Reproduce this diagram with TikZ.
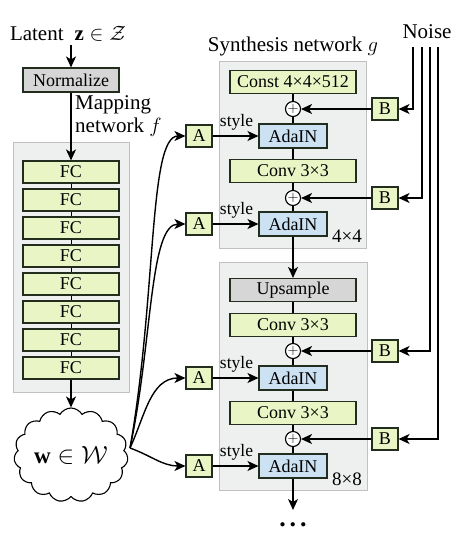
\documentclass[tikz,border=0pt]{standalone}
\usepackage{amsmath,amssymb}
\usepackage{fontspec}
\setmainfont{Liberation Serif}
\usetikzlibrary{positioning,arrows.meta,shapes.symbols}
\definecolor{fcgreen}{RGB}{234,245,198}
\definecolor{adablue}{RGB}{204,225,242}
\definecolor{normgray}{RGB}{214,214,214}
\definecolor{panelgray}{RGB}{238,239,239}
\definecolor{panelline}{RGB}{192,192,192}
\definecolor{boxline}{RGB}{35,45,30}
\tikzset{
  blk/.style={draw=boxline, line width=1.1pt, inner sep=0pt, font=\fontsize{18}{20}\selectfont},
  fc/.style={blk, fill=fcgreen, minimum width=96pt, minimum height=22pt},
  wide/.style={blk, fill=fcgreen, minimum width=126pt, minimum height=23pt},
  grayb/.style={blk, fill=normgray, minimum height=24pt},
  ada/.style={blk, fill=adablue, minimum width=68pt, minimum height=24pt},
  sq/.style={blk, fill=fcgreen, minimum width=26pt, minimum height=22pt},
  addn/.style={circle, draw=black, line width=1.1pt, fill=white, minimum size=15pt,
               inner sep=0pt, font=\fontsize{15}{15}\selectfont},
  panel/.style={draw=panelline, line width=1pt, fill=panelgray},
  lnk/.style={line width=1.4pt, -{Stealth[length=11pt,width=10pt,inset=3pt]}},
  ln/.style={line width=1.4pt},
  ttl/.style={font=\fontsize{21}{24}\selectfont},
  stylab/.style={font=\fontsize{17.5}{19}\selectfont, inner sep=1pt},
  reslab/.style={font=\fontsize{19}{21}\selectfont, inner sep=0pt},
}

\begin{document}
\begin{tikzpicture}[x=1pt, y=-1pt]
  \useasboundingbox (0,0) rectangle (464,542);
  % mapping network
  \node[ttl] (lat) at (68,34) {Latent\hspace{11pt}$\mathbf{z}\in\mathcal{Z}$};
  \node[grayb, minimum width=96pt] (norm) at (71,80) {Normalize};
  \draw[lnk] (norm.north |- lat.south) -- (norm.north);
  \node[ttl, anchor=north west, align=left, inner sep=0pt] (mapt) at (75,95) {Mapping\\[-1pt]network $f$};
  \draw[panel] (13,142) rectangle (129,392);
  \foreach \i in {1,...,8}
    \node[fc] (fc\i) at (71,{144+28*\i}) {FC};
  \draw[lnk] (norm) -- (fc1);
  \foreach \i in {1,...,7} {
    \pgfmathtruncatemacro{\j}{\i+1}
    \draw[ln, line width=1pt] (fc\i) -- (fc\j);
  }
  \node[cloud, draw, line width=1.1pt, fill=white, cloud puffs=15, cloud puff arc=120,
        aspect=1.25, minimum width=114pt, minimum height=86pt, inner sep=0pt,
        font=\fontsize{23}{25}\selectfont] (w) at (71,455)
        {$\mathbf{w}\in\mathcal{W}$};
  \draw[lnk] (fc8) -- (w);

  % synthesis network
  \node[ttl] (syn) at (293,46) {Synthesis network $g$};
  \node[ttl] (noise) at (427,32) {Noise};
  \draw[panel] (219,61) rectangle (366,248);
  \draw[panel] (219,262) rectangle (367,490);
  \node[wide] (const) at (293,82) {Const 4×4×512};
  \node[addn] (p1) at (293,109) {$+$};
  \node[ada] (ada1) at (293,136) {AdaIN};
  \node[wide] (conv1) at (293,171) {Conv 3×3};
  \node[addn] (p2) at (293,198) {$+$};
  \node[ada] (ada2) at (293,224) {AdaIN};
  \node[reslab] (r4) at (347,236) {4×4};
  \node[grayb, minimum width=126pt, minimum height=23pt] (ups) at (293,290) {Upsample};
  \node[wide] (conv2) at (293,325) {Conv 3×3};
  \node[addn] (p3) at (293,351) {$+$};
  \node[ada] (ada3) at (293,378) {AdaIN};
  \node[wide] (conv3) at (293,413) {Conv 3×3};
  \node[addn] (p4) at (293,439) {$+$};
  \node[ada] (ada4) at (293,466) {AdaIN};
  \node[reslab] (r8) at (347,479) {8×8};
  \coordinate (nxt) at (293,510);
  \node[font=\fontsize{26}{26}\selectfont\bfseries] (dots) at (293,525) {.\hspace{4pt}.\hspace{4pt}.};

  \draw[ln] (const) -- (p1);
  \draw[ln] (p1) -- (ada1);
  \draw[ln] (ada1) -- (conv1);
  \draw[ln] (conv1) -- (p2);
  \draw[ln] (p2) -- (ada2);
  \draw[lnk] (ada2) -- (ups);
  \draw[ln] (ups) -- (conv2);
  \draw[ln] (conv2) -- (p3);
  \draw[ln] (p3) -- (ada3);
  \draw[ln] (ada3) -- (conv3);
  \draw[ln] (conv3) -- (p4);
  \draw[ln] (p4) -- (ada4);
  \draw[lnk] (ada4) -- (nxt);

  % noise inputs
  \foreach \k/\x/\y in {1/413/109, 2/422/198, 3/430/351, 4/438/439} {
    \node[sq] (b\k) at (385,\y) {B};
    \coordinate (n\k) at (\x,47);
    \draw[lnk] (n\k) |- (b\k);
    \draw[lnk] (b\k) -- (p\k);
  }

  % styles
  \foreach \k/\y in {1/136, 2/224, 3/378, 4/466} {
    \node[sq] (a\k) at (199,\y) {A};
    \draw[lnk] (a\k) -- node[stylab, pos=0.5, above=4pt, xshift=1pt] {style} (ada\k);
  }
  \coordinate (wo) at (130,448);
  \draw[lnk] (wo) to[out=80, in=180, out looseness=1.25, in looseness=0.3] (a1);
  \draw[lnk] (wo) to[out=78, in=180, out looseness=1.2, in looseness=0.4] (a2);
  \draw[lnk] (wo) to[out=65, in=180] (a3);
  \draw[lnk] (wo) to[out=-20, in=180] (a4);
\end{tikzpicture}
\end{document}
